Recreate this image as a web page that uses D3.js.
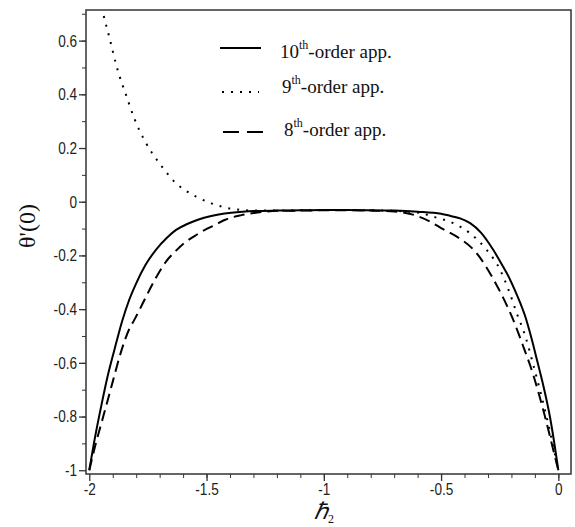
<!DOCTYPE html>
<html>
<head>
<meta charset="utf-8">
<script src="https://cdn.jsdelivr.net/npm/d3@7"></script>
<style>
  body { margin: 0; background: #fff; }
  svg { display: block; }
  .tick text { font-family: "Liberation Sans", Arial, sans-serif; font-size: 17px; fill: #222; }
  .legend text, .title { font-family: "Liberation Serif", "Times New Roman", serif; fill: #111; }
</style>
</head>
<body>
<div id="chart"></div>
<script>
// x positions (hbar_2) and theta'(0) values
var x10 = [-2, -1.975, -1.95, -1.922, -1.893, -1.86, -1.83, -1.8, -1.76, -1.715, -1.67, -1.63, -1.58, -1.537, -1.48, -1.423, -1.36, -1.3,
           -1.2, -1.1, -1.0, -0.9, -0.8, -0.7, -0.6, -0.5, -0.45, -0.419, -0.376, -0.33, -0.277, -0.24, -0.212, -0.185, -0.162, -0.14,
           -0.117, -0.088, -0.06, -0.036, -0.017, 0];
var y10 = [-1, -0.875, -0.765, -0.651, -0.552, -0.445, -0.366, -0.304, -0.235, -0.178, -0.135, -0.105, -0.082, -0.067, -0.053, -0.044, -0.038, -0.035,
           -0.033, -0.032, -0.031, -0.031, -0.032, -0.033, -0.037, -0.045, -0.055, -0.062, -0.08, -0.115, -0.18, -0.235, -0.279, -0.33, -0.378, -0.43,
           -0.5, -0.6, -0.7, -0.8, -0.9, -1];

var x9 = [-2, -1.97, -1.943, -1.915, -1.879, -1.843, -1.808, -1.761, -1.701, -1.679, -1.63, -1.594, -1.544, -1.48, -1.38, -1.295,
          -1.2, -1.1, -1.0, -0.9, -0.8, -0.7, -0.6, -0.533, -0.447, -0.376, -0.305, -0.248, -0.212, -0.177, -0.141, -0.106, -0.07, -0.034, 0];
var y9 = [0.92, 0.8, 0.707, 0.614, 0.49, 0.397, 0.31, 0.223, 0.143, 0.118, 0.068, 0.044, 0.019, -0.006, -0.028, -0.033,
          -0.033, -0.032, -0.031, -0.031, -0.032, -0.034, -0.04, -0.056, -0.08, -0.118, -0.18, -0.254, -0.329, -0.416, -0.5, -0.61, -0.73, -0.862, -1];

var x8 = [-2, -1.975, -1.95, -1.92, -1.9, -1.865, -1.83, -1.808, -1.786, -1.765, -1.72, -1.672, -1.63, -1.594, -1.55, -1.509, -1.46, -1.423, -1.352, -1.3, -1.25,
          -1.2, -1.1, -1.0, -0.9, -0.8, -0.7, -0.62, -0.547, -0.5, -0.433, -0.348, -0.283, -0.234, -0.198, -0.17, -0.145, -0.12, -0.1, -0.077, -0.06, -0.041, -0.02, 0];
var y8 = [-1, -0.91, -0.83, -0.735, -0.67, -0.56, -0.475, -0.44, -0.403, -0.366, -0.29, -0.222, -0.182, -0.153, -0.127, -0.106, -0.085, -0.068, -0.05, -0.042, -0.037,
          -0.034, -0.033, -0.032, -0.032, -0.033, -0.036, -0.048, -0.074, -0.098, -0.13, -0.192, -0.279, -0.36, -0.428, -0.49, -0.55, -0.61, -0.665, -0.735, -0.79, -0.855, -0.93, -1];

var xTicks = [-2, -1.5, -1, -0.5, 0];
var xTickLabels = ["-2", "-1.5", "-1", "-0.5", "0"];
var yTicks = [-1, -0.8, -0.6, -0.4, -0.2, 0, 0.2, 0.4, 0.6];
var yTickLabels = ["-1", "-0.8", "-0.6", "-0.4", "-0.2", "0", "0.2", "0.4", "0.6"];

var seriesNames = ["10", "9", "8"];

var width = 575, height = 527;
var plotLeft = 86, plotRight = 571, plotTop = 10, plotBottom = 474;
var squeeze = 0.8; // tick labels in the picture are narrow

var svg = d3.select("#chart").append("svg")
    .attr("width", width)
    .attr("height", height);

var x = d3.scaleLinear().domain([-2.014, 0.054]).range([plotLeft, plotRight]);
var y = d3.scaleLinear().domain([-1.014, 0.714]).range([plotBottom, plotTop]);

// frame
svg.append("rect")
    .attr("x", plotLeft).attr("y", plotTop)
    .attr("width", plotRight - plotLeft).attr("height", plotBottom - plotTop)
    .attr("fill", "none").attr("stroke", "#333").attr("stroke-width", 1.5);

// minor ticks
var xMinor = d3.range(-19, 1).map(function(i) { return i / 10; });
var yMinor = d3.range(-9, 8).map(function(i) { return i / 10; });
svg.append("g").attr("transform", "translate(0," + plotBottom + ")")
    .call(d3.axisBottom(x).tickValues(xMinor).tickSize(4).tickFormat(""))
    .call(function(g) { g.select(".domain").remove(); g.selectAll("line").attr("stroke", "#333"); });
svg.append("g").attr("transform", "translate(" + plotLeft + ",0)")
    .call(d3.axisLeft(y).tickValues(yMinor).tickSize(4).tickFormat(""))
    .call(function(g) { g.select(".domain").remove(); g.selectAll("line").attr("stroke", "#333"); });

// major ticks
svg.append("g").attr("transform", "translate(0," + plotBottom + ")")
    .call(d3.axisBottom(x).tickValues(xTicks).tickSize(7).tickPadding(2)
        .tickFormat(function(d, i) { return xTickLabels[i]; }))
    .call(function(g) {
        g.select(".domain").remove();
        g.selectAll("line").attr("stroke", "#333").attr("stroke-width", 1.3);
        g.selectAll("text").attr("font-family", null).attr("font-size", null)
            .attr("transform", "scale(" + squeeze + ",1)");
    });
svg.append("g").attr("transform", "translate(" + plotLeft + ",0)")
    .call(d3.axisLeft(y).tickValues(yTicks).tickSize(7).tickPadding(2)
        .tickFormat(function(d, i) { return yTickLabels[i]; }))
    .call(function(g) {
        g.select(".domain").remove();
        g.selectAll("line").attr("stroke", "#333").attr("stroke-width", 1.3);
        g.selectAll("text").attr("font-family", null).attr("font-size", null)
            .attr("x", -9 / squeeze)
            .attr("transform", "scale(" + squeeze + ",1)");
    });

// curves
svg.append("clipPath").attr("id", "plotClip")
  .append("rect").attr("x", plotLeft).attr("y", plotTop)
    .attr("width", plotRight - plotLeft).attr("height", plotBottom - plotTop);

var line = d3.line()
    .x(function(d) { return x(d[0]); })
    .y(function(d) { return y(d[1]); })
    .curve(d3.curveMonotoneX);

var curves = [
    { pts: d3.zip(x10, y10), dash: null },
    { pts: d3.zip(x9, y9), dash: "2,7" },
    { pts: d3.zip(x8, y8), dash: "11,6" }
];

svg.append("g").attr("clip-path", "url(#plotClip)")
  .selectAll("path")
    .data(curves)
  .enter().append("path")
    .attr("d", function(d) { return line(d.pts); })
    .attr("fill", "none")
    .attr("stroke", "#000")
    .attr("stroke-width", 2)
    .attr("stroke-dasharray", function(d) { return d.dash; });

// legend
var legendRows = [
    { lineY: 48, x1: 220, x2: 261, dash: null, textX: 280, textY: 58 },
    { lineY: 92, x1: 222, x2: 259, dash: "2,7", textX: 282, textY: 93 },
    { lineY: 132, x1: 223, x2: 265, dash: "16,8", textX: 284, textY: 136 }
];
var legend = svg.append("g").attr("class", "legend");
legendRows.forEach(function(r, i) {
    legend.append("line")
        .attr("x1", r.x1).attr("x2", r.x2)
        .attr("y1", r.lineY).attr("y2", r.lineY)
        .attr("stroke", "#000").attr("stroke-width", 2)
        .attr("stroke-dasharray", r.dash);
    var t = legend.append("text")
        .attr("x", r.textX).attr("y", r.textY)
        .attr("font-size", 19);
    t.append("tspan").text(seriesNames[i]);
    t.append("tspan").attr("font-size", 12).attr("dy", -9).text("th");
    t.append("tspan").attr("dy", 9).text("-order app.");
});

// axis titles
svg.append("text").attr("class", "title")
    .attr("transform", "translate(35,226) rotate(-90)")
    .attr("text-anchor", "middle")
    .attr("font-size", 24)
    .text("\u03b8'(0)");

var xt = svg.append("text").attr("class", "title")
    .attr("x", 314).attr("y", 519)
    .attr("font-size", 23);
xt.append("tspan").attr("font-style", "italic").text("\u210f");
xt.append("tspan").attr("font-size", 12).attr("dy", 4).text("2");
</script>
</body>
</html>
